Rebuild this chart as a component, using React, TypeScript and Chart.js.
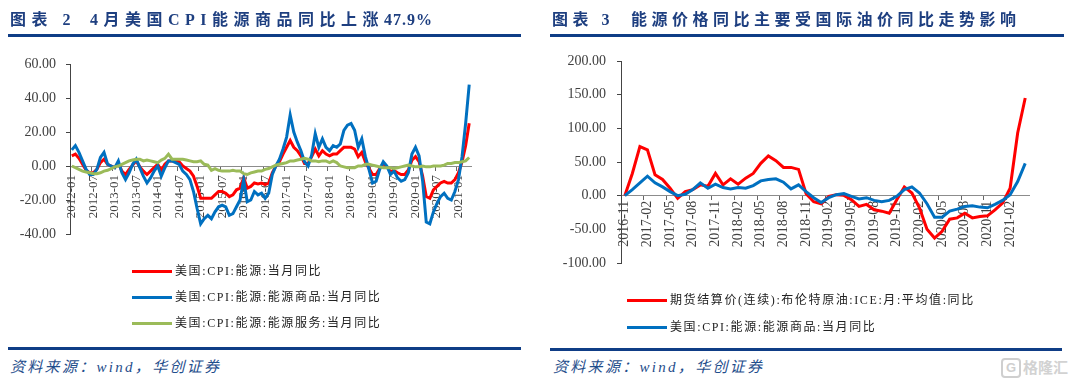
import React, { useEffect, useRef } from "react";
import { Chart, registerables } from "chart.js";

Chart.register(...registerables);

function monthLabels(startYear: number, startMonth: number, count: number): string[] {
  const out: string[] = [];
  for (let i = 0; i < count; i++) {
    const t = startYear * 12 + (startMonth - 1) + i;
    const y = Math.floor(t / 12);
    const m = (t % 12) + 1;
    out.push(`${y}-${m < 10 ? "0" + m : m}`);
  }
  return out;
}

// ---------- Figure 2 (left) : 2012-01 .. 2021-04 ----------
const leftMonths = monthLabels(2012, 1, 112);

const cpiEnergy = [
  6, 7, 4.5, 1, -2.5, -4, -4, -2, 2, 4, 1, 0,
  -1, 1.5, -3, -5, -2, 0.5, 3, -0.5, -3, -5, -3, -1,
  1, -2.5, 1, 3, 3, 3, 2.5, 0, -1.5, -3, -6, -12,
  -19, -19, -19, -19, -17, -15, -15, -16, -18, -17, -14, -13,
  -7, -13, -12, -10, -10.5, -10, -11, -10, -4, 0, 2.5, 7,
  11, 15, 11, 9, 6, 1.5, 1.5, 5.5, 10, 6, 9, 7,
  6, 7, 7, 9, 11, 11, 11, 10, 5.5, 8, 2.5, -1.4,
  -5, -5, -1.5, 1.5, -0.4, -3.3, -2.7, -4, -5, -5, -2.3, 3.4,
  5.5, 2.5, -6, -18, -19, -14, -12, -10, -9, -10, -10, -8,
  -4, 2.5, 12, 25.1,
];

const cpiEnergyCommodities = [
  9.5, 12, 8, 3, -2, -5, -5, -2, 5, 8, 1, 0,
  -1, 3, -4, -8, -4, 1, 4, -1, -6, -10, -7, -3,
  0, -6, -1, 3, 3, 2, 1, -3, -5, -8, -15, -25,
  -34, -31, -29, -31, -27, -24, -23, -24, -29, -28, -24, -20,
  -8, -21, -20, -15, -17, -16, -19, -16, -5, 0, 4, 10,
  17, 30, 20, 14, 9, 2.5, 0, 6.5, 19, 11, 16, 11,
  9, 12, 11, 13, 21, 24, 25, 21, 11, 16, 5.5, -2,
  -10, -9, -2, 2.5, 0, -5, -3, -7, -9, -8, -4, 7,
  11, 6, -9, -33, -34, -27, -22, -18, -16, -19, -20, -15,
  -8, 5.5, 25, 47.9,
];

const cpiEnergyServices = [
  0, -1, -2, -3, -3.5, -4, -4.5, -4.5, -4, -3, -2.5, -1.5,
  -0.5, 0, 1, 2, 3, 3.5, 4, 4, 3, 3.5, 3, 2.5,
  2, 3.5, 4.5, 7, 4, 4, 4, 4, 3.5, 3, 2.5, 2.5,
  3, 1, 0.5, -2.5, -1.5, -2.5, -3, -3, -3, -2.5, -3, -3,
  -4.5, -5, -4, -3.5, -3, -3, -2, -1.5, -0.5, 0.5, 1, 1.5,
  2, 3, 3, 3.5, 4, 4.5, 4, 3, 3, 2.5, 3, 3,
  2, 3, 2, 0, -0.5, -1, -1, -1, 0, 0, 1, 1,
  0.5, 0, -0.5, -1, -1, -1, -1.5, -1, -0.5, 0, 0.5, 0,
  -0.5, -0.5, 0, -0.5, -0.5, 0, 0, 0, 0.5, 1.5, 1.5, 2,
  2, 2.5, 3, 5,
];

const leftYTicks = { min: -40, max: 60, step: 20 };

// ---------- Figure 3 (right) : 2016-11 .. 2021-04 ----------
const rightMonths = monthLabels(2016, 11, 54);

const brentYoY = [
  0, 33,
  73, 68, 31, 24, 11, -4, 6, 9, 16, 14, 33, 16,
  25, 17, 26, 33, 48, 59, 52, 42, 42, 39, 3, -9,
  -12, -1, 1.5, 0.5, -6, -16, -13, -21, -23, -26, -6, 13,
  4, -18, -50, -63, -53, -35, -33, -26, -33, -31, -30, -21,
  -11, 11, 93, 145,
];

const energyCommoditiesYoY = [
  0, 9,
  19, 29, 19, 13, 6, 0, 2, 9, 19, 11, 17, 12,
  10, 12, 11, 15, 22, 24, 25, 20, 10, 16, 6, -3,
  -10, -3, 1.5, 3, -1, -5, -3, -7, -9, -7, -1, 9,
  13, 4, -12, -32, -32, -23, -20, -16, -15, -17, -18, -13,
  -7, 1.5, 21, 48,
];

const rightYTicks = { min: -100, max: 200, step: 50 };

const RED = "#ff0000";
const BLUE = "#0070c0";
const GREEN = "#9bbb59";
const NAVY = "#1e3f80";
const RULE = "#0f3d86";
const SRC = "#1f4e8c";
const SERIF_CJK = "'Liberation Serif', 'Noto Sans CJK SC', serif";

type Series = { label: string; data: number[]; color: string };

interface ChartProps {
  left: number;
  top: number;
  width: number;
  height: number;
  labels: string[];
  series: Series[];
  yMin: number;
  yMax: number;
  yStep: number;
  every: number;
  yWidth: number;
  padTop: number;
  padRight: number;
  padBottom: number;
  xFont: number;
  yFont: number;
  xPad: number;
  yPad: number;
}

function LineChart(p: ChartProps) {
  const ref = useRef<HTMLCanvasElement>(null);
  useEffect(() => {
    const n = p.series.length;
    const chart = new Chart(ref.current as HTMLCanvasElement, {
      type: "line",
      data: {
        labels: p.labels,
        datasets: p.series.map((s, i) => ({
          label: s.label,
          data: s.data,
          borderColor: s.color,
          backgroundColor: s.color,
          borderWidth: 3,
          pointRadius: 0,
          tension: 0,
          fill: false,
          order: n - i,
        })),
      },
      options: {
        animation: false,
        responsive: false,
        maintainAspectRatio: false,
        layout: { padding: { left: 0, top: p.padTop, right: p.padRight, bottom: p.padBottom } },
        plugins: { legend: { display: false }, tooltip: { enabled: false } },
        scales: {
          x: {
            type: "category",
            offset: true,
            position: { y: 0 } as any,
            afterFit: (s: any) => {
              s.height = 0;
            },
            grid: {
              display: true,
              drawOnChartArea: false,
              offset: true,
              tickLength: 4,
              color: (ctx: any) => (ctx.index % p.every === 0 ? "#666" : "rgba(0,0,0,0)"),
            },
            border: { display: true, color: "#8c8c8c", width: 1 },
            ticks: {
              autoSkip: false,
              minRotation: 90,
              maxRotation: 90,
              padding: p.xPad,
              color: "#404040",
              font: { family: "'Liberation Serif', serif", size: p.xFont },
              callback: (_v: any, i: number) => (i % p.every === 0 ? p.labels[i] : ""),
            },
          },
          y: {
            min: p.yMin,
            max: p.yMax,
            afterFit: (s: any) => {
              s.width = p.yWidth;
            },
            grid: { drawOnChartArea: false, tickLength: 4, color: "#444" },
            border: { display: true, color: "#444", width: 1 },
            ticks: {
              stepSize: p.yStep,
              padding: p.yPad,
              color: "#404040",
              font: { family: "'Liberation Serif', serif", size: p.yFont },
              callback: (v: any) => Number(v).toFixed(2),
            },
          },
        },
      },
    });
    return () => chart.destroy();
  }, []);
  return (
    <canvas
      ref={ref}
      width={p.width}
      height={p.height}
      style={{ position: "absolute", left: p.left, top: p.top, width: p.width, height: p.height }}
    />
  );
}

function LegendRow(props: { x: number; y: number; color: string; text: string }) {
  return (
    <>
      <div
        style={{
          position: "absolute",
          left: props.x,
          top: props.y - 1.5,
          width: 40,
          height: 3,
          background: props.color,
        }}
      />
      <div
        style={{
          position: "absolute",
          left: props.x + 43,
          top: props.y - 8,
          fontSize: 12,
          lineHeight: "16px",
          letterSpacing: "1.6px",
          color: "#222",
          fontFamily: SERIF_CJK,
          whiteSpace: "nowrap",
        }}
      >
        {props.text}
      </div>
    </>
  );
}

function Rule(props: { x: number; y: number; w: number }) {
  return (
    <div
      style={{ position: "absolute", left: props.x, top: props.y, width: props.w, height: 3, background: RULE }}
    />
  );
}

function Source(props: { x: number }) {
  return (
    <div
      style={{
        position: "absolute",
        left: props.x,
        top: 358,
        fontSize: 15,
        lineHeight: "18px",
        fontStyle: "italic",
        letterSpacing: "2.3px",
        color: SRC,
        fontFamily: SERIF_CJK,
        whiteSpace: "nowrap",
      }}
    >
      资料来源：wind，华创证券
    </div>
  );
}

export default function App() {
  const titleStyle: React.CSSProperties = {
    position: "absolute",
    top: 10,
    fontSize: 16,
    lineHeight: "20px",
    fontWeight: 700,
    color: NAVY,
    fontFamily: SERIF_CJK,
    whiteSpace: "nowrap",
  };
  return (
    <div
      style={{
        position: "absolute",
        left: 0,
        top: 0,
        width: 1076,
        height: 386,
        background: "#fff",
        overflow: "hidden",
      }}
    >
      {/* Left chart */}
      <LineChart
        left={0}
        top={0}
        width={530}
        height={264}
        labels={leftMonths}
        series={[
          { label: "美国:CPI:能源:当月同比", data: cpiEnergy, color: RED },
          { label: "美国:CPI:能源:能源商品:当月同比", data: cpiEnergyCommodities, color: BLUE },
          { label: "美国:CPI:能源:能源服务:当月同比", data: cpiEnergyServices, color: GREEN },
        ]}
        yMin={leftYTicks.min}
        yMax={leftYTicks.max}
        yStep={leftYTicks.step}
        every={6}
        yWidth={70}
        padTop={64}
        padRight={59}
        padBottom={30}
        xFont={13}
        yFont={14}
        xPad={5}
        yPad={10}
      />

      {/* Right chart */}
      <LineChart
        left={540}
        top={0}
        width={536}
        height={293}
        labels={rightMonths}
        series={[
          { label: "期货结算价(连续):布伦特原油:ICE:月:平均值:同比", data: brentYoY, color: RED },
          { label: "美国:CPI:能源:能源商品:当月同比", data: energyCommoditiesYoY, color: BLUE },
        ]}
        yMin={rightYTicks.min}
        yMax={rightYTicks.max}
        yStep={rightYTicks.step}
        every={3}
        yWidth={81}
        padTop={61}
        padRight={47}
        padBottom={30}
        xFont={14}
        yFont={14}
        xPad={1}
        yPad={11}
      />

      {/* Titles */}
      <div style={{ ...titleStyle, left: 10, letterSpacing: "5.5px" }}>
        图表 2<span style={{ marginLeft: 14 }}>4月美国CPI能源商品同比上涨</span>
        <span style={{ letterSpacing: "1px" }}>47.9%</span>
      </div>
      <div style={{ ...titleStyle, left: 552, letterSpacing: "4.5px" }}>
        图表 3<span style={{ marginLeft: 17 }}>能源价格同比主要受国际油价同比走势影响</span>
      </div>
      <Rule x={8} y={34} w={513} />
      <Rule x={550} y={34} w={514} />

      <LegendRow x={132} y={271} color={RED} text="美国:CPI:能源:当月同比" />
      <LegendRow x={132} y={297} color={BLUE} text="美国:CPI:能源:能源商品:当月同比" />
      <LegendRow x={132} y={323} color={GREEN} text="美国:CPI:能源:能源服务:当月同比" />

      <LegendRow x={627} y={300} color={RED} text="期货结算价(连续):布伦特原油:ICE:月:平均值:同比" />
      <LegendRow x={627} y={327} color={BLUE} text="美国:CPI:能源:能源商品:当月同比" />

      {/* Bottom rules and sources */}
      <Rule x={8} y={347} w={513} />
      <Rule x={550} y={348} w={512} />
      <Source x={10} />
      <Source x={553} />

      {/* Watermark */}
      <div
        style={{
          position: "absolute",
          left: 1001,
          top: 358,
          width: 16,
          height: 16,
          border: "2px solid #cfcfcf",
          borderRadius: 4,
          color: "#cfcfcf",
          fontFamily: "'Liberation Sans', sans-serif",
          fontWeight: 700,
          fontSize: 13,
          lineHeight: "16px",
          textAlign: "center",
        }}
      >
        G
      </div>
      <div
        style={{
          position: "absolute",
          left: 1023,
          top: 357,
          fontSize: 15,
          lineHeight: "20px",
          fontWeight: 700,
          color: "#d2d2d2",
          fontFamily: "'Noto Sans CJK SC', sans-serif",
          whiteSpace: "nowrap",
        }}
      >
        格隆汇
      </div>
    </div>
  );
}
